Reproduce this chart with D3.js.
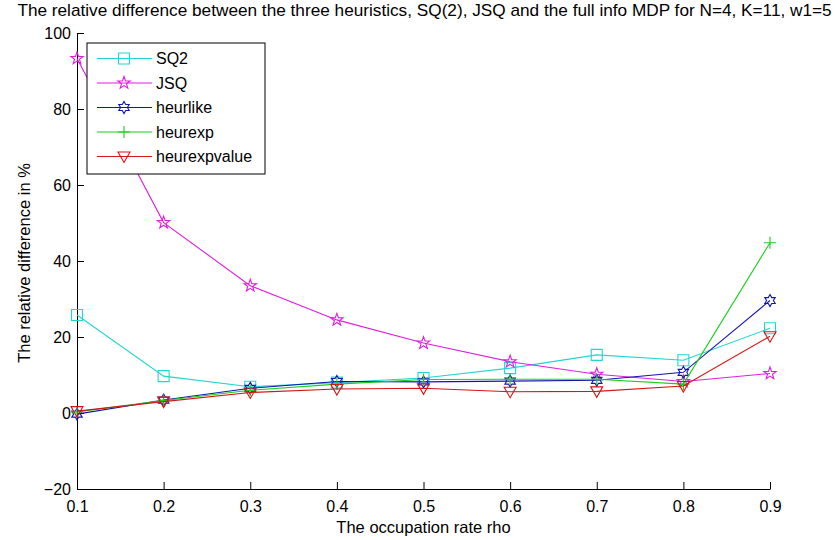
<!DOCTYPE html>
<html>
<head>
<meta charset="utf-8">
<script src="https://cdn.jsdelivr.net/npm/d3@7"></script>
<style>
  html, body { margin: 0; padding: 0; background: #fff; }
  svg { display: block; font-family: Arial, "Liberation Sans", Helvetica, sans-serif; }
</style>
</head>
<body>
<svg id="chart" width="835" height="540"></svg>
<script>
// Occupation rate values on the x axis
const rho = [0.1, 0.2, 0.3, 0.4, 0.5, 0.6, 0.7, 0.8, 0.9];

// Relative difference (%) of each policy against the full-info MDP
const sq2          = [25.8, 9.7, 6.9, 8.0, 9.2, 11.8, 15.3, 13.9, 22.3];
const jsq          = [93.3, 50.1, 33.5, 24.5, 18.4, 13.5, 10.2, 8.3, 10.4];
const heurlike     = [-0.3, 3.4, 6.5, 8.3, 8.2, 8.4, 8.6, 10.7, 29.6];
const heurexp      = [0.3, 3.3, 6.0, 7.6, 8.8, 8.9, 8.9, 7.6, 44.8];
const heurexpvalue = [0.5, 3.0, 5.4, 6.3, 6.5, 5.6, 5.7, 7.1, 20.2];

const seriesNames = ["SQ2", "JSQ", "heurlike", "heurexp", "heurexpvalue"];
const seriesData = [sq2, jsq, heurlike, heurexp, heurexpvalue];

const xTicks = [0.1, 0.2, 0.3, 0.4, 0.5, 0.6, 0.7, 0.8, 0.9];
const yTicks = [-20, 0, 20, 40, 60, 80, 100];

const titleText = "The relative difference between the three heuristics, SQ(2), JSQ and the full info MDP for N=4, K=11, w1=5";
const xLabel = "The occupation rate rho";
const yLabel = "The relative difference in %";

// Line colours and marker shapes per series
const colors = ["#1fd6d6", "#e01ee0", "#1414b4", "#14d214", "#d81414"];
const markers = ["square", "pentagram", "hexagram", "plus", "triangledown"];

const svg = d3.select("#chart");
const W = 835, H = 540;
const plot = { left: 77, right: 770, top: 33, bottom: 489 };

const x = d3.scaleLinear().domain([0.1, 0.9]).range([plot.left, plot.right]);
const y = d3.scaleLinear().domain([-20, 100]).range([plot.bottom, plot.top]);

svg.append("rect").attr("width", W).attr("height", H).attr("fill", "#fff");

// Star polygon outline with n points
function starPath(n, rOut, rIn) {
  const pts = [];
  for (let i = 0; i < 2 * n; i++) {
    const a = -Math.PI / 2 + i * Math.PI / n;
    const r = i % 2 === 0 ? rOut : rIn;
    pts.push([r * Math.cos(a), r * Math.sin(a)]);
  }
  return "M" + pts.map(p => p[0].toFixed(2) + "," + p[1].toFixed(2)).join("L") + "Z";
}

function markerPath(kind) {
  switch (kind) {
    case "square": return "M-5.5,-5.5L5.5,-5.5L5.5,5.5L-5.5,5.5Z";
    case "pentagram": return starPath(5, 6.5, 2.6);
    case "hexagram": return starPath(6, 6, 3.4);
    case "plus": return "M-6,0L6,0M0,-6L0,6";
    case "triangledown": return "M-6,-4.5L6,-4.5L0,6Z";
  }
}

// Axes (left and bottom only, ticks pointing inward)
const xAxis = d3.axisBottom(x).tickValues(xTicks).tickSizeInner(-7).tickSizeOuter(0)
  .tickPadding(10).tickFormat(d3.format(".1f"));
const yAxis = d3.axisLeft(y).tickValues(yTicks).tickSizeInner(-7).tickSizeOuter(0)
  .tickPadding(6).tickFormat(d3.format("d"));

const gx = svg.append("g").attr("transform", `translate(0,${plot.bottom})`).call(xAxis);
const gy = svg.append("g").attr("transform", `translate(${plot.left},0)`).call(yAxis);
[gx, gy].forEach(g => {
  g.select(".domain").attr("stroke", "#000").attr("stroke-width", 1);
  g.selectAll(".tick line").attr("stroke", "#000").attr("stroke-width", 1);
  g.selectAll(".tick text").attr("fill", "#000").attr("font-size", 16)
    .attr("font-family", "Arial, 'Liberation Sans', sans-serif");
});
gx.selectAll(".tick text").attr("dy", "0.8em");

// Series lines and markers, drawn in order so the last one sits on top
const line = d3.line().x((d, i) => x(rho[i])).y(d => y(d));
seriesData.forEach((vals, s) => {
  const g = svg.append("g");
  g.append("path").attr("d", line(vals)).attr("fill", "none")
    .attr("stroke", colors[s]).attr("stroke-width", 1.1);
  g.selectAll("path.mk").data(vals).enter().append("path")
    .attr("class", "mk")
    .attr("d", markerPath(markers[s]))
    .attr("transform", (d, i) => `translate(${x(rho[i])},${y(d)})`)
    .attr("fill", "none").attr("stroke", colors[s]).attr("stroke-width", 1.1);
});

// Legend box
const leg = { x: 87, y: 43, w: 178, h: 131 };
const lg = svg.append("g");
lg.append("rect").attr("x", leg.x).attr("y", leg.y).attr("width", leg.w).attr("height", leg.h)
  .attr("fill", "#fff").attr("stroke", "#000").attr("stroke-width", 1);
seriesNames.forEach((name, s) => {
  const cy = 58.5 + s * 24.5;
  lg.append("line").attr("x1", 97).attr("x2", 152).attr("y1", cy).attr("y2", cy)
    .attr("stroke", colors[s]).attr("stroke-width", 1.1);
  lg.append("path").attr("d", markerPath(markers[s]))
    .attr("transform", `translate(124,${cy})`)
    .attr("fill", "none").attr("stroke", colors[s]).attr("stroke-width", 1.1);
  lg.append("text").attr("x", 156).attr("y", cy).attr("dy", "0.36em")
    .attr("font-size", 16).attr("fill", "#000").text(name);
});

// Title, fitted to span the full width above the axes
const title = svg.append("text").attr("x", (plot.left + plot.right) / 2 + 1).attr("y", 16)
  .attr("text-anchor", "middle").attr("font-size", 16).attr("fill", "#000").text(titleText);
const tw = title.node().getComputedTextLength();
title.attr("font-size", (16 * 815 / tw).toFixed(2));

// Axis labels
svg.append("text").attr("x", (plot.left + plot.right) / 2).attr("y", 533)
  .attr("text-anchor", "middle").attr("font-size", 16.5).attr("fill", "#000").text(xLabel);
svg.append("text").attr("transform", `translate(30,263) rotate(-90)`)
  .attr("text-anchor", "middle").attr("font-size", 16.5).attr("fill", "#000").text(yLabel);
</script>
</body>
</html>
